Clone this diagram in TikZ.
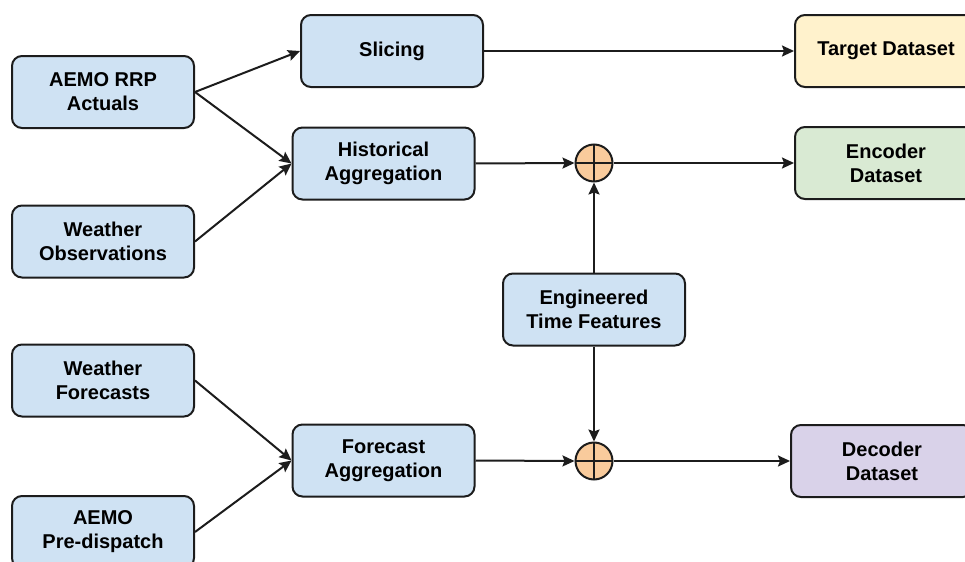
\documentclass[tikz,border=0pt]{standalone}
\usepackage{fontspec}
\setmainfont{Liberation Sans}
\usetikzlibrary{arrows.meta}
\usetikzlibrary{positioning}

\definecolor{boxblue}{HTML}{CFE2F3}
\definecolor{boxyellow}{HTML}{FFF2CC}
\definecolor{boxgreen}{HTML}{D9EAD3}
\definecolor{boxpurple}{HTML}{D9D2E9}
\definecolor{sumorange}{HTML}{F9CB9C}
\definecolor{edge}{HTML}{1C1C1C}

\begin{document}
\begin{tikzpicture}[x=0.5pt,y=-0.5pt]
\tikzset{
    stage/.style={
        draw=edge, line width=1pt, rounded corners=5pt, fill=boxblue,
        minimum width=91pt, minimum height=36pt, align=center,
        font=\bfseries\fontsize{10}{12}\selectfont
    },
    summer/.style={
        circle, draw=edge, line width=1pt, fill=sumorange,
        minimum size=18.5pt, inner sep=0pt,
        path picture={
            \draw[edge, line width=0.8pt]
            (path picture bounding box.north) -- (path picture bounding box.south)
            (path picture bounding box.west) -- (path picture bounding box.east);
        }
    },
    link/.style={draw=edge, line width=1pt, -{Stealth[length=6pt,width=5.5pt,inset=1pt]}},
    plain/.style={draw=edge, line width=1pt},
}

  \clip (0,0) rectangle (965,562);

  % sources
  \node[stage] (rrp)  at (103,92)    {AEMO RRP\\Actuals};
  \node[stage] (wobs) at (103,241.5) {Weather\\Observations};
  \node[stage] (wfc)  at (103,380.5) {Weather\\Forecasts};
  \node[stage] (pre)  at (103,532)   {AEMO\\Pre-dispatch};

  % processing
  \node[stage] (slice) at (392,51)     {Slicing};
  \node[stage] (hist)  at (383.5,163.5) {Historical\\Aggregation};
  \node[stage] (fagg)  at (383.5,460.5) {Forecast\\Aggregation};
  \node[stage] (eng)   at (594,309.5)  {Engineered\\Time Features};

  \node[summer] (plusA) at (594,163) {};
  \node[summer] (plusB) at (594,461) {};

  % outputs
  \node[stage, fill=boxyellow] (target) at (886,51)  {Target Dataset};
  \node[stage, fill=boxgreen]  (enc)    at (886,163) {Encoder\\Dataset};
  \node[stage, fill=boxpurple] (dec)    at (882,461) {Decoder\\Dataset};

  \draw[link] (rrp.east) -- (slice.west);
  \draw[link] (rrp.east) -- (hist.west);
  \draw[link] (wobs.east) -- (hist.west);
  \draw[link] (wfc.east) -- (fagg.west);
  \draw[link] (pre.east) -- (fagg.west);

  \draw[link] (slice.east) -- (target.west);
  \draw[link] (hist.east) -- (plusA.west);
  \draw[link] (plusA.east) -- (enc.west);
  \draw[link] (fagg.east) -- (plusB.west);
  \draw[link] (plusB.east) -- (dec.west);

  \draw[link] (eng.north) -- (plusA.south);
  \draw[link] (eng.south) -- (plusB.north);

\end{tikzpicture}
\end{document}
